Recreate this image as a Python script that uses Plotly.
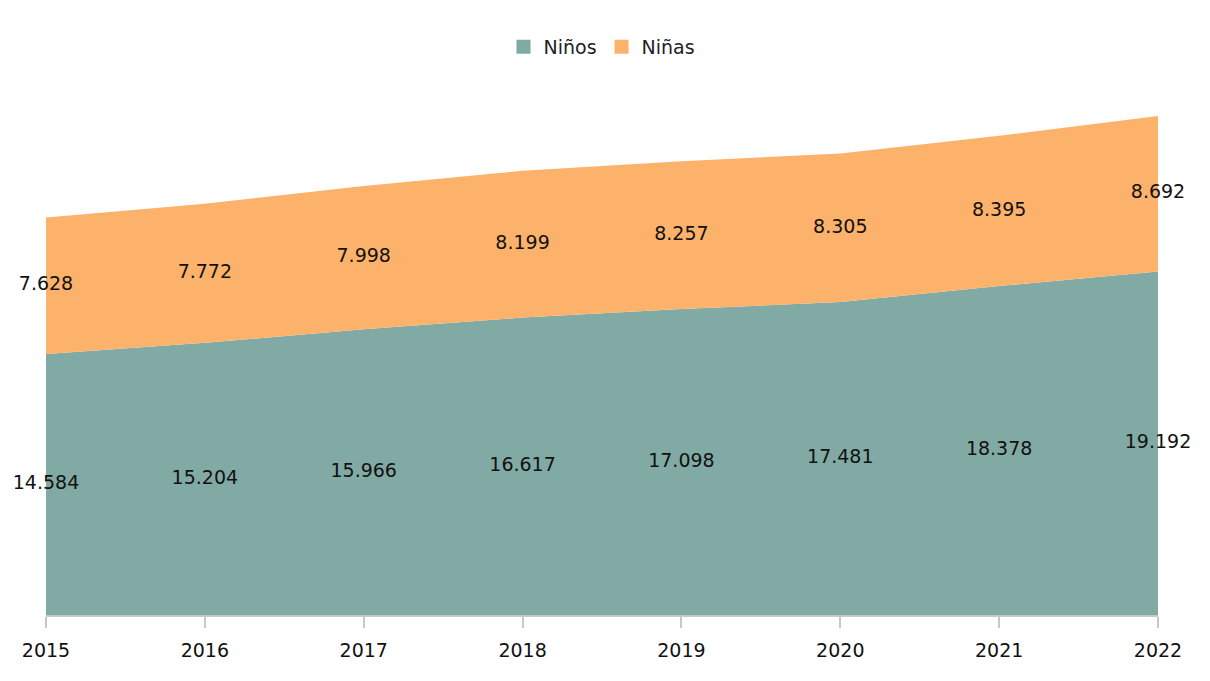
import plotly.graph_objects as go

years = [2015, 2016, 2017, 2018, 2019, 2020, 2021, 2022]
ninos = [14584, 15204, 15966, 16617, 17098, 17481, 18378, 19192]
ninas = [7628, 7772, 7998, 8199, 8257, 8305, 8395, 8692]

col_ninos = "#80AAA3"
col_ninas = "#FDB26B"
fnt = "DejaVu Sans"


def fmt(v):
    return f"{v:,}".replace(",", ".")


fig = go.Figure()
fig.add_trace(go.Scatter(x=years, y=ninos, name="Niños", stackgroup="a",
                         mode="none", fillcolor=col_ninos, showlegend=False))
fig.add_trace(go.Scatter(x=years, y=ninas, name="Niñas", stackgroup="a",
                         mode="none", fillcolor=col_ninas, showlegend=False))

# legend entries drawn as squares
for nm, c in [("Niños", col_ninos), ("Niñas", col_ninas)]:
    fig.add_trace(go.Scatter(x=[None], y=[None], mode="markers", name=nm,
                             marker=dict(symbol="square", size=14, color=c)))

# value labels centred in each band
mid_ninos = [v / 2 for v in ninos]
mid_ninas = [a + b / 2 for a, b in zip(ninos, ninas)]
fig.add_trace(go.Scatter(x=years, y=mid_ninos, mode="text",
                         text=[fmt(v) for v in ninos], showlegend=False,
                         textfont=dict(family=fnt, size=19, color="#111111"),
                         hoverinfo="skip", cliponaxis=False))
fig.add_trace(go.Scatter(x=years, y=mid_ninas, mode="text",
                         text=[fmt(v) for v in ninas], showlegend=False,
                         textfont=dict(family=fnt, size=19, color="#111111"),
                         hoverinfo="skip", cliponaxis=False))

fig.update_layout(
    width=1210, height=681,
    margin=dict(l=38, r=60, t=70, b=74),
    paper_bgcolor="white", plot_bgcolor="white",
    font=dict(family=fnt, size=19, color="#222222"),
    showlegend=True,
    legend=dict(orientation="h", x=0.5, xanchor="center", y=0.943,
                yanchor="middle", yref="container", traceorder="normal",
                font=dict(size=19, color="#222222"), itemwidth=30,
                tracegroupgap=0),
    xaxis=dict(range=[2015, 2022], tickvals=years, showgrid=False,
               zeroline=False, showline=True, linecolor="#C8C8C8",
               linewidth=1.5, ticks="outside", ticklen=11,
               tickcolor="#C8C8C8", tickwidth=1.5, ticklabelstandoff=6,
               tickfont=dict(size=19, color="#111111")),
    yaxis=dict(range=[0, 30000], visible=False),
)

fig.write_html("out.html")
